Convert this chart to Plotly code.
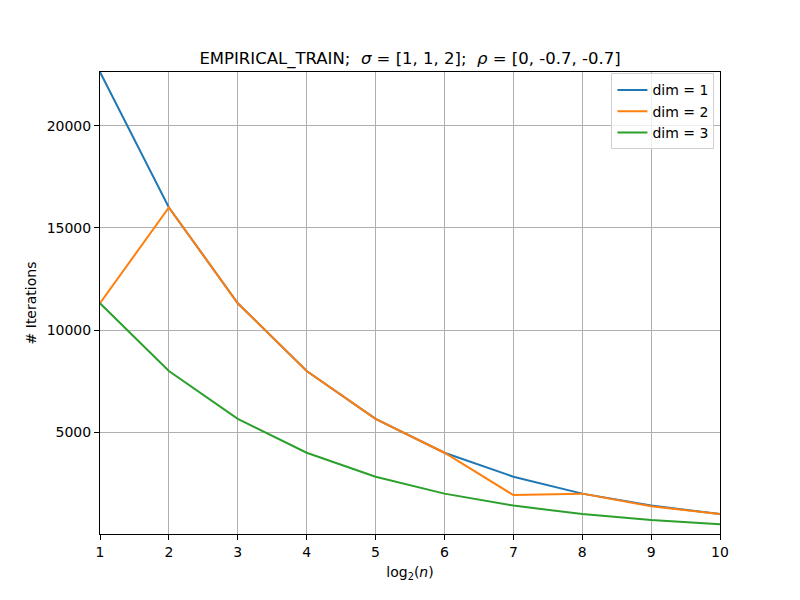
import plotly.graph_objects as go

x_vals = [1, 2, 3, 4, 5, 6, 7, 8, 9, 10]
dim1 = [22627, 16000, 11314, 8000, 5657, 4000, 2828, 2000, 1414, 1000]
dim2 = [11314, 16000, 11314, 8000, 5657, 4000, 1930, 2000, 1380, 1000]
dim3 = [11314, 8000, 5657, 4000, 2828, 2000, 1414, 1000, 707, 500]
series_names = ["dim = 1", "dim = 2", "dim = 3"]
colors = ["#1f77b4", "#ff7f0e", "#2ca02c"]
y_ticks = [5000, 10000, 15000, 20000]
y_tick_labels = ["5000", "10000", "15000", "20000"]

fig = go.Figure()
for name, ys, c in zip(series_names, [dim1, dim2, dim3], colors):
    fig.add_trace(go.Scatter(x=x_vals, y=ys, mode="lines", name=name,
                             line=dict(color=c, width=2)))

fig.update_layout(
    width=800, height=600,
    margin=dict(l=100, r=80, t=72, b=66),
    paper_bgcolor="white", plot_bgcolor="white",
    font=dict(family="DejaVu Sans", size=14, color="black"),
    title=dict(text="EMPIRICAL_TRAIN;  <i>σ</i> = [1, 1, 2];  <i>ρ</i> = [0, -0.7, -0.7]",
               x=0.5125, xanchor="center", y=1 - 58 / 600, yanchor="middle",
               yref="container", font=dict(size=16.5)),
    legend=dict(x=0.991, y=0.997, xanchor="right", yanchor="top",
                bgcolor="rgba(255,255,255,0.8)", bordercolor="#d0d0d0", borderwidth=1,
                font=dict(size=14), tracegroupgap=0),
    showlegend=True,
)
fig.update_xaxes(range=[1, 10], tickvals=x_vals, showgrid=True, gridcolor="#b0b0b0", gridwidth=1,
                 showline=True, linecolor="black", linewidth=1, mirror=True,
                 ticks="outside", ticklen=5, tickcolor="black", zeroline=False,
                 title=dict(text="log<sub>2</sub>(<i>n</i>)", font=dict(size=14), standoff=8))
fig.update_yaxes(range=[25, 22627], tickvals=y_ticks, ticktext=y_tick_labels,
                 showgrid=True, gridcolor="#b0b0b0", gridwidth=1,
                 showline=True, linecolor="black", linewidth=1, mirror=True,
                 ticks="outside", ticklen=5, tickcolor="black", zeroline=False,
                 title=dict(text="# Iterations", font=dict(size=14), standoff=6))

fig.write_html("out.html")
